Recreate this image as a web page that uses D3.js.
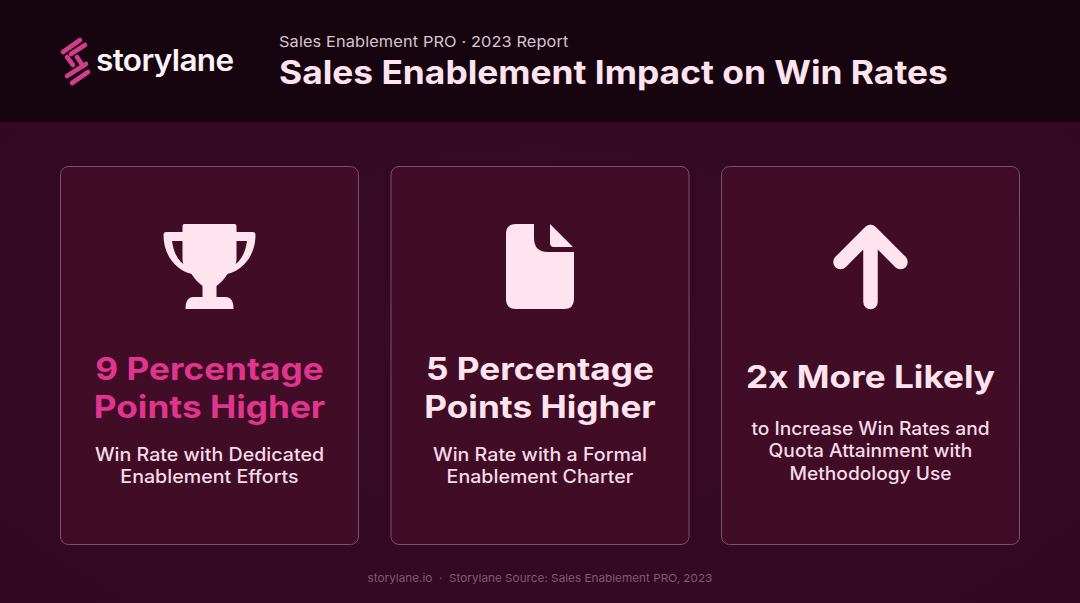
<!DOCTYPE html>
<html><head><meta charset="utf-8">
<script src="https://cdn.jsdelivr.net/npm/d3@7"></script>
<style>html,body{margin:0;padding:0;background:#310822;overflow:hidden}svg{display:block}text{font-family:Inter,"Noto Sans",sans-serif}</style>
</head><body><svg id="c" width="1080" height="603"></svg>
<script>
const brand = "storylane";
const reportLabel = "Sales Enablement PRO · 2023 Report";
const chartTitle = "Sales Enablement Impact on Win Rates";
const cardIds = ["dedicated", "charter", "methodology"];
const icons = ["trophy", "document", "arrow"];
const headlines = [["9 Percentage", "Points Higher"], ["5 Percentage", "Points Higher"], ["2x More Likely"]];
const sublines = [["Win Rate with Dedicated", "Enablement Efforts"], ["Win Rate with a Formal", "Enablement Charter"], ["to Increase Win Rates and", "Quota Attainment with", "Methodology Use"]];
const headlineColors = ["#e0358f", "#ffe4ef", "#ffe4ef"];
const footer = "storylane.io  ·  Storylane Source: Sales Enablement PRO, 2023";

const svg = d3.select("#c");
// stretch Inter horizontally toward the wide geometric face of the reference
function wide(sel, f){ sel.attr("textLength", sel.node().getComputedTextLength()*f).attr("lengthAdjust","spacingAndGlyphs"); return sel; }

const defs = svg.append("defs");
const bg = defs.append("radialGradient").attr("id","bg").attr("cx","50%").attr("cy","55%").attr("r","75%");
bg.append("stop").attr("offset","0%").attr("stop-color","#370a25");
bg.append("stop").attr("offset","100%").attr("stop-color","#310822");
svg.append("rect").attr("width",1080).attr("height",603).attr("fill","url(#bg)");
svg.append("rect").attr("width",1080).attr("height",122).attr("fill","#16040f");

// logo
const logo = svg.append("g").attr("stroke","#d13c8c").attr("stroke-width",4.6).attr("stroke-linecap","round").attr("fill","none");
[[63,52,80,40],[71,54,85,45],[67,57,73,65],[77,57,83,66],[67,76,86,64],[72,83,88,72]].forEach(s=>{
  logo.append("line").attr("x1",s[0]).attr("y1",s[1]).attr("x2",s[2]).attr("y2",s[3]);
});
wide(svg.append("text").attr("x",96).attr("y",71).attr("fill","#fdf3f8").attr("font-size",30).attr("font-weight",600).attr("letter-spacing",-0.6).text(brand),1.05);

wide(svg.append("text").attr("x",279).attr("y",47).attr("fill","#d8c3cf").attr("font-size",15).attr("letter-spacing",0.1).text(reportLabel),1.09);
wide(svg.append("text").attr("x",279).attr("y",84).attr("fill","#ffe4ef").attr("font-size",32).attr("font-weight",700).text(chartTitle),1.104);

const x = d3.scaleBand().domain(cardIds).range([60,1020]).paddingInner(31.5/330.5);
const cards = svg.selectAll("g.card").data(cardIds).join("g").attr("class","card").attr("transform",d=>`translate(${x(d)},0)`);
const cardFill = "#410c26";
cards.append("rect").attr("x",0.5).attr("y",166.5).attr("width",x.bandwidth()-1).attr("height",378).attr("rx",8)
  .attr("fill",cardFill).attr("stroke","#7d5069").attr("stroke-width",1);

const ink = "#ffe4ef";
cards.each(function(d,i){
  const g = d3.select(this), cx = x.bandwidth()/2;
  const ic = g.append("g").attr("transform",`translate(${cx},0)`);
  if(icons[i]==="trophy"){
    ic.append("path").attr("fill",ink).attr("d","M-27 226q0-2 2-2h50q2 0 2 2v6h16q3 0 3 3c0 20-12 35-28 39c-3 5-7 9-11 12v11h9q8 0 8 12h-48q0-12 8-12h9v-11c-4-3-8-7-11-12c-16-4-28-19-28-39q0-3 3-3h16z");
    ic.append("path").attr("fill",cardFill).attr("d","M-37.5 241h10.5v18q0 3 1 5c-6-4-10-12-11.5-23zM37.5 241h-10.5v18q0 3-1 5c6-4 10-12 11.5-23z");
  } else if(icons[i]==="document"){
    ic.append("path").attr("fill",ink).attr("d","M-24 224h18v14q0 14 14 14h26v47q0 10-10 10h-48q-10 0-10-10v-65q0-10 10-10z");
    ic.append("path").attr("fill",ink).attr("d","M10 224l23 23h-19q-4 0-4-4z");
  } else {
    ic.append("path").attr("fill","none").attr("stroke",ink).attr("stroke-width",14.5).attr("stroke-linecap","round").attr("stroke-linejoin","round").attr("d","M0 302V232M-30 262L0 232L30 262");
  }
  const single = headlines[i].length===1;
  const hy = single ? [388] : [380,418];
  headlines[i].forEach((t,j)=>wide(g.append("text").attr("x",cx).attr("y",hy[j]).attr("text-anchor","middle").attr("fill",headlineColors[i]).attr("font-size",31).attr("font-weight",700).text(t),1.135));
  const sy = single ? 435 : 461, sd = 22.3;
  sublines[i].forEach((t,j)=>wide(g.append("text").attr("x",cx).attr("y",sy+j*sd).attr("text-anchor","middle").attr("fill","#f7dbe7").attr("font-size",18).attr("font-weight",500).text(t),single?1.065:1.09));
});
wide(svg.append("text").attr("x",540).attr("y",582).attr("text-anchor","middle").attr("fill","#7d5c71").attr("font-size",11).attr("xml:space","preserve").text(footer),1.068);
</script></body></html>
